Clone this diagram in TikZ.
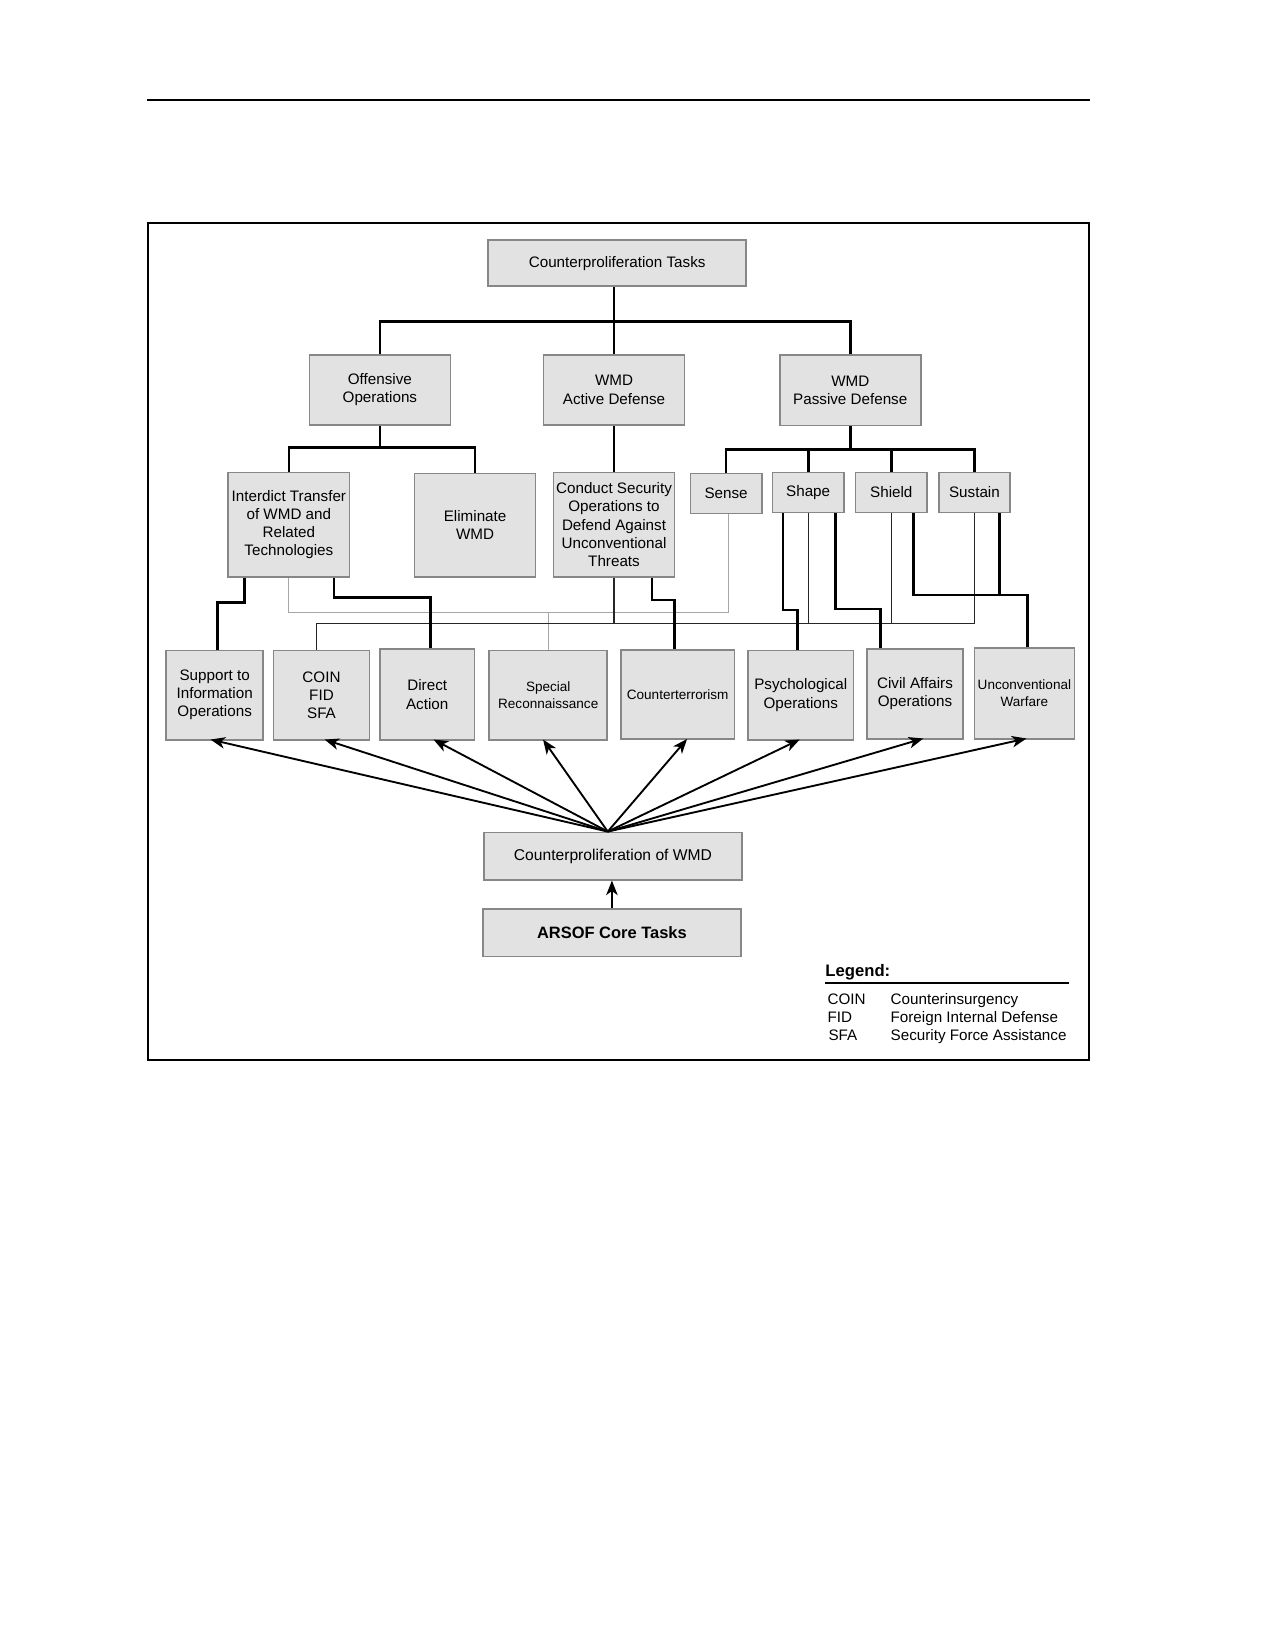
\documentclass[tikz,border=0pt]{standalone}
\usepackage{fontspec}
\setmainfont{Liberation Sans}
\usetikzlibrary{positioning,arrows.meta}

\definecolor{boxfill}{RGB}{226,226,226}
\definecolor{boxline}{RGB}{135,135,135}

\tikzset{
  box/.style={draw=boxline, fill=boxfill, line width=0.8pt, align=center, inner sep=1pt,
    font=\fontsize{7.3}{8.7}\selectfont},
  smalltext/.style={font=\fontsize{6.5}{8}\selectfont},
  heavy/.style={line width=1.3pt},
  linkline/.style={line width=0.6pt, black!85},
  faintline/.style={line width=0.5pt, black!35},
  arrowline/.style={line width=0.9pt, -{Stealth[length=7pt,width=5.5pt,inset=2pt]}},
  legtext/.style={anchor=base west, inner sep=0pt, font=\fontsize{7.3}{8.7}\selectfont},
}

\begin{document}
\begin{tikzpicture}[x=0.505pt,y=0.505pt,yscale=-1,xscale=1]
        \useasboundingbox (0,0) rectangle (1212,1568);
        %Page rule and frame
        \draw[line width=1pt] (140,95) -- (1036,95);
        \draw[line width=1pt] (141,212) rectangle (1035,1007);

        % Top level
        \node[box, minimum width=123.7pt, minimum height=22.2pt] (cpt) at (586.5,250) {Counterproliferation Tasks};
        % Second level
        \node[box, minimum width=67.7pt, minimum height=33.8pt] (offops) at (361,370.5) {Offensive\\Operations};
        \node[box, minimum width=67.7pt, minimum height=33.8pt] (active) at (583.5,370.5) {WMD\\Active Defense};
        \node[box, minimum width=67.7pt, minimum height=33.8pt] (passive) at (808,371) {WMD\\Passive Defense};
        % Third level
        \node[box, minimum width=58.1pt, minimum height=50pt] (interdict) at (274.5,498.5) {Interdict Transfer\\of WMD and\\Related\\Technologies};
        \node[box, minimum width=58.1pt, minimum height=49.5pt] (eliminate) at (451.5,499) {Eliminate\\WMD};
        \node[box, minimum width=58.1pt, minimum height=50pt] (conduct) at (583.5,498.5) {Conduct Security\\Operations to\\Defend Against\\Unconventional\\Threats};
        \node[box, minimum width=34.3pt, minimum height=19.2pt] (sense) at (690,469) {Sense};
        \node[box, minimum width=34.3pt, minimum height=19.2pt] (shape) at (768,468) {Shape};
        \node[box, minimum width=34.3pt, minimum height=19.2pt] (shield) at (847,468) {Shield};
        \node[box, minimum width=34.3pt, minimum height=19.2pt] (sustain) at (926,468) {Sustain};
        % Core tasks row
        \node[box, minimum width=46.5pt, minimum height=42.9pt] (support) at (204,660.5) {Support to\\Information\\Operations};
        \node[box, minimum width=46pt, minimum height=42.9pt] (coin) at (305.5,660.5) {COIN\\FID\\SFA};
        \node[box, minimum width=45.5pt, minimum height=43.4pt] (direct) at (406,660) {Direct\\Action};
        \node[box, smalltext, minimum width=56.6pt, minimum height=42.9pt] (special) at (521,660.5) {Special\\Reconnaissance};
        \node[box, smalltext, minimum width=54.5pt, minimum height=42.9pt] (cterr) at (644,660) {Counterterrorism};
        \node[box, minimum width=50.5pt, minimum height=42.9pt] (psyop) at (761,660.5) {Psychological\\Operations};
        \node[box, minimum width=46pt, minimum height=42.9pt] (civil) at (869.5,659.5) {Civil Affairs\\Operations};
        \node[box, smalltext, minimum width=48pt, minimum height=43.4pt] (uw) at (973.5,659) {Unconventional\\Warfare};
        % Bottom
        \node[box, font=\fontsize{7.5}{9}\selectfont, minimum width=123.7pt, minimum height=22.7pt] (cpwmd) at (582.5,813.5) {Counterproliferation of WMD};
        \node[box, font=\bfseries\fontsize{7.9}{9.5}\selectfont, minimum width=123.7pt, minimum height=22.7pt] (arsof) at (581.5,886.5) {ARSOF Core Tasks};

        % Tree connectors
        \draw[heavy] (offops.north) -- ++(0,-31) -| (passive.north);
        \draw[heavy] (cpt.south -| active.north) -- (active.north);
        \draw[heavy] (interdict.north) -- ++(0,-23) coordinate (obus) -| (eliminate.north);
        \draw[heavy] (offops.south) -- (offops.south |- obus);
        \draw[heavy] (active.south) -- (conduct.north);
        \draw[heavy] (sense.north) -- ++(0,-22) coordinate (pbus) -| (sustain.north);
        \draw[heavy] (passive.south) -- (passive.south |- pbus);
        \draw[heavy] (shape.north) -- (shape.north |- pbus);
        \draw[heavy] (shield.north) -- (shield.north |- pbus);

        % Links down to core tasks
        \draw[faintline] (interdict.south) -- ++(0,33) coordinate (gbus) -| ([xshift=1pt]sense.south);
        \draw[faintline] (special.north) -- (special.north |- gbus);
        \draw[linkline] ([xshift=-2.5pt]coin.north) -- ++(0,-24.5) coordinate (cbus) -| (sustain.south);
        \draw[linkline] (conduct.south) -- (conduct.south |- cbus);
        \draw[linkline] (shape.south) -- (shape.south |- cbus);
        \draw[linkline] (shield.south) -- (shield.south |- cbus);
        \draw[heavy] ([xshift=-21.2pt]interdict.south) -- ++(0,24) -| ([xshift=1.5pt]support.north);
        \draw[heavy] ([xshift=21.7pt]interdict.south) -- ++(0,19) -| ([xshift=1.5pt]direct.north);
        \draw[heavy] ([xshift=18.2pt]conduct.south) -- ++(0,21.5) -| ([xshift=-1.5pt]cterr.north);
        \draw[heavy] ([xshift=-12.1pt]shape.south) -- ++(0,92) -| ([xshift=-1.5pt]psyop.north);
        \draw[heavy] ([xshift=13.1pt]shape.south) -- ++(0,91) -| ([xshift=-16.7pt]civil.north);
        \draw[heavy] ([xshift=10.6pt]shield.south) -- ++(0,77.5) -| ([xshift=1.5pt]uw.north);
        \draw[heavy] ([xshift=12.1pt]sustain.south) -- ++(0,77.5);

        % Fan of arrows
        \coordinate (fan) at ([xshift=-2.5pt]cpwmd.north);
        \foreach \n/\s in {support/-2,coin/1.5,direct/3,special/-2.5,cterr/4.5,psyop/-0.5,civil/4,uw/1}
            \draw[arrowline] (fan) -- ([xshift=\s pt,yshift=-0.5pt]\n.south);
        \draw[arrowline] (arsof.north) -- (arsof.north |- cpwmd.south);

        % Legend
        \node[legtext, font=\bfseries\fontsize{8}{9.6}\selectfont] (legend) at (784,928) {Legend:};
        \draw[line width=1pt] (784,934) -- (1016,934);
        \node[legtext] (lcoin) at (786,955) {COIN};
        \node[legtext] (lfid) at (786,972) {FID};
        \node[legtext] (lsfa) at (787,989) {SFA};
        \node[legtext] (dcoin) at (846,955) {Counterinsurgency};
        \node[legtext] (dfid) at (846,972) {Foreign Internal Defense};
        \node[legtext] (dsfa) at (846,989) {Security Force Assistance};
    \end{tikzpicture}
\end{document}
